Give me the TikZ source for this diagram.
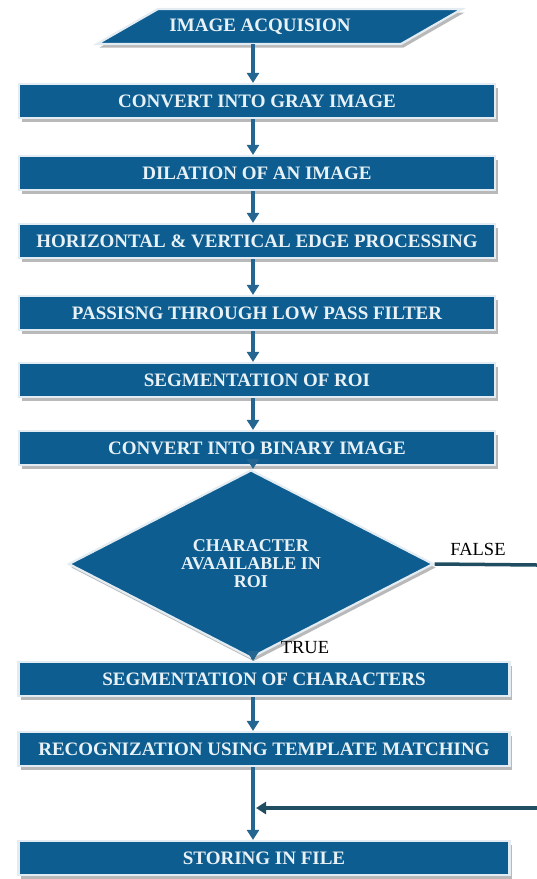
\documentclass[tikz,border=0pt]{standalone}
\usepackage{fontspec}
\setmainfont{Liberation Serif}
\usetikzlibrary{arrows.meta}
\usetikzlibrary{shapes.geometric}
\usetikzlibrary{shadows}

\definecolor{boxblue}{RGB}{14,93,145}
\definecolor{boxtext}{RGB}{232,242,246}
\definecolor{rimblue}{RGB}{226,236,242}
\definecolor{shadowgrey}{RGB}{185,185,185}
\definecolor{flowblue}{RGB}{36,102,145}
\definecolor{backblue}{RGB}{32,78,96}

\begin{document}
\begin{tikzpicture}[x=1pt,y=-1pt,inner sep=0pt,>={Triangle[width=12pt,length=10pt]},
  txt/.style={text=boxtext,font=\bfseries\fontsize{19}{16.5}\selectfont,align=center},
  blk/.style={txt,fill=boxblue,draw=rimblue,line width=2.2pt,drop shadow={shadow xshift=2.5pt,shadow yshift=-3.5pt,fill=shadowgrey,opacity=1}},
  proc/.style={blk,minimum width=476pt,minimum height=34pt},
  procw/.style={blk,minimum width=491pt,minimum height=34pt},
  decide/.style={blk,diamond,minimum width=365pt,minimum height=134pt,font=\bfseries\fontsize{18}{18}\selectfont},
  flow/.style={draw=flowblue,line width=3.5pt},
  lbl/.style={font=\fontsize{18.5}{18.5}\selectfont,text=black}]
\useasboundingbox (0,0) rectangle (537,879);
% input
\path[blk] (97,44) -- (158,9) -- (462,9) -- (401,44) -- cycle;
\draw node [txt] (acq) at (260,27) {IMAGE ACQUISION};
\coordinate (acqb) at (253,44);
% processing chain
\draw node [proc] (gray)  at (257,101) {CONVERT INTO GRAY IMAGE};
\draw node [proc] (dil)   at (257,173) {DILATION OF AN IMAGE};
\draw node [proc] (edge)  at (257,241) {HORIZONTAL \& VERTICAL EDGE PROCESSING};
\draw node [proc] (lpf)   at (257,313) {PASSISNG THROUGH LOW PASS FILTER};
\draw node [proc] (roi)   at (257,380) {SEGMENTATION OF ROI};
\draw node [proc] (bin)   at (257,448) {CONVERT INTO BINARY IMAGE};
\draw node [decide] (chk) at (251,564) {CHARACTER\\AVAAILABLE IN\\ROI};
\draw node [procw] (chr)  at (264,679) {SEGMENTATION OF CHARACTERS};
\draw node [procw] (rec)  at (264,749) {RECOGNIZATION USING TEMPLATE MATCHING};
\draw node [procw] (store) at (264,858) {STORING IN FILE};
% labels
\draw node [lbl] (ft) at (478,549) {FALSE};
\draw node [lbl] (tt) at (305,648) {TRUE};
% arrows
\draw [flow,->] (acqb) -- (acqb |- gray.north);
\draw [flow,->] (acqb |- gray.south) -- (acqb |- dil.north);
\draw [flow,->] (acqb |- dil.south) -- (acqb |- edge.north);
\draw [flow,->] (acqb |- edge.south) -- (acqb |- lpf.north);
\draw [flow,->] (acqb |- lpf.south) -- (acqb |- roi.north);
\draw [flow,->] (acqb |- roi.south) -- (acqb |- bin.north);
\draw [flow,->] (acqb |- bin.south) -- (acqb |- chk.north);
\draw [flow,->] (acqb |- chk.south) -- (acqb |- chr.north);
\draw [flow,->] (acqb |- chr.south) -- (acqb |- rec.north);
\draw [flow,->] (acqb |- rec.south) -- (acqb |- store.north);
% false branch, leaves the page on the right
\coordinate (fout) at (537,565);
\coordinate (fin) at (537,808);
\draw [flow,draw=backblue] (chk.east) -- (fout);
\draw [flow,draw=backblue,->] (fin) -- (256,808);
\end{tikzpicture}
\end{document}
